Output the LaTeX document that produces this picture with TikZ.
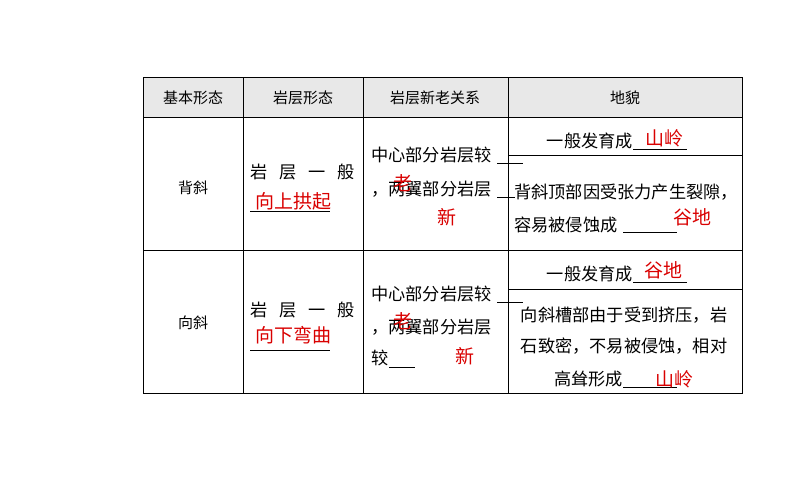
\documentclass[tikz,border=0pt]{standalone}
\usepackage{fontspec}
\setmainfont{Noto Sans CJK SC}
\begin{document}
\begin{tikzpicture}[x=1pt,y=-1pt,
  bk/.style={inner sep=0pt,font=\fontsize{17.2}{18}\selectfont},
  hd/.style={inner sep=0pt,font=\fontsize{15}{18}\selectfont},
  rd/.style={inner sep=0pt,text=red!85!black,font=\fontsize{19}{20}\selectfont},
  ul/.style={line width=0.8pt},
  grid/.style={line width=0.9pt}]
\useasboundingbox (0,0) rectangle (794,496);
\fill[gray!18] (143,77) rectangle (742,117);
\draw[grid] (143,77) rectangle (742,393);
\draw[grid] (143,117) -- (742,117) (143,250) -- (742,250);
\draw[grid] (243,77) -- (243,393) (363,77) -- (363,393) (508,77) -- (508,393);
\draw[grid] (508,155) -- (742,155) (508,289) -- (742,289);
% header
\node[hd] (h1) at (193,98) {基本形态};
\node[hd] (h2) at (303,98) {岩层形态};
\node[hd] (h3) at (435,98) {岩层新老关系};
\node[hd] (h4) at (625,98) {地貌};
\node[hd] (c1) at (193,188) {背斜};
\node[hd] (c2) at (193,323) {向斜};
% row1 col2
\node[bk,anchor=west] (a1) at (250,172) {岩\hspace{12pt}层\hspace{12pt}一\hspace{12pt}般};
\node[rd] (a2) at (293,201) {向上拱起};
\draw[ul] (250,211) -- (330,211);
% row1 col3
\node[bk,anchor=west] (b1) at (371,155) {中心部分岩层较};
\draw[ul] (497,163) -- (523,163);
\node[bk,anchor=west] (b2) at (371,189) {，两翼部分岩层};
\draw[ul] (497,197) -- (515,197);
\node[rd] (b3) at (403,183) {老};
\node[rd] (b4) at (447,217) {新};
% row1 col4
\node[bk,anchor=east] (d1) at (633,141) {一般发育成};
\draw[ul] (633,149) -- (687,149);
\node[rd] (d2) at (664,138) {山岭};
\node[bk,anchor=west] (d3) at (514,192) {背斜顶部因受张力产生裂隙，};
\node[bk,anchor=west] (d4) at (514,225) {容易被侵蚀成};
\draw[ul] (623,232) -- (677,232);
\node[rd] (d5) at (692,217) {谷地};
% row2 col2
\node[bk,anchor=west] (e1) at (250,310) {岩\hspace{12pt}层\hspace{12pt}一\hspace{12pt}般};
\node[rd] (e2) at (293,335) {向下弯曲};
\draw[ul] (250,350) -- (330,350);
% row2 col3
\node[bk,anchor=west] (f1) at (371,294) {中心部分岩层较};
\draw[ul] (497,302) -- (523,302);
\node[bk,anchor=west] (f2) at (371,327) {，两翼部分岩层};
\node[bk,anchor=west] (f3) at (371,358) {较};
\draw[ul] (389,367) -- (415,367);
\node[rd] (f4) at (403,321) {老};
\node[rd] (f5) at (465,356) {新};
% row2 col4
\node[bk] (g3) at (624,315) {向斜槽部由于受到挤压，岩};
\node[bk] (g4) at (624,346) {石致密，不易被侵蚀，相对};
\node[bk,anchor=east] (g1) at (633,274) {一般发育成};
\draw[ul] (633,282) -- (687,282);
\node[rd] (g2) at (663,270) {谷地};
\node[bk,anchor=east] (g5) at (623,379) {高耸形成};
\draw[ul] (623,387) -- (677,387);
\node[rd] (g6) at (674,379) {山岭};
\end{tikzpicture}
\end{document}
